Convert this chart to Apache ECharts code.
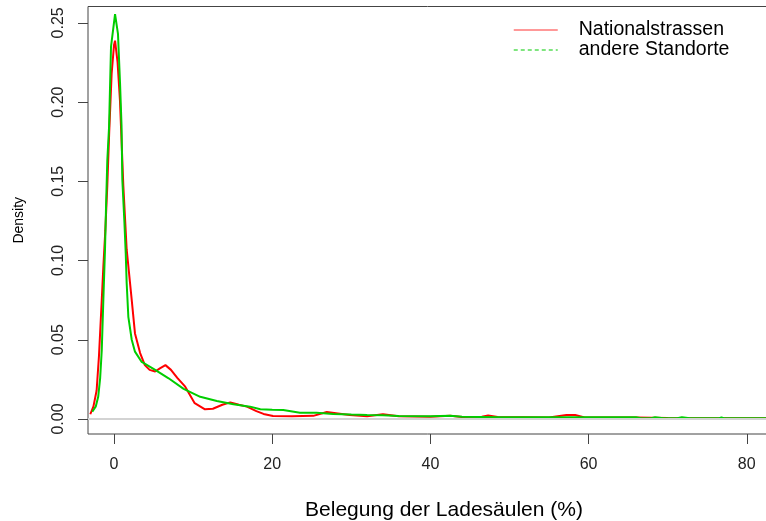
<!DOCTYPE html>
<html>
<head>
<meta charset="utf-8">
<script src="https://cdn.jsdelivr.net/npm/echarts@6/dist/echarts.min.js"></script>
<style>
html,body{margin:0;padding:0;background:#fff;}
#chart{width:766px;height:521px;}
</style>
</head>
<body>
<div id="chart"></div>
<script>
// Data
const seriesNames = ["Nationalstrassen", "andere Standorte"];
const xTicks = [0, 20, 40, 60, 80];
const yTicks = [0, 0.05, 0.10, 0.15, 0.20, 0.25];

const nationalX = [-3.0,-2.6,-2.2,-1.9,-1.55,-1.35,-1.1,-0.85,-0.6,-0.3,0.0,0.13,0.45,0.75,1.18,1.6,2.24,2.65,3.3,3.9,4.5,5.2,5.8,6.5,7.2,8.0,9.0,10.2,11.5,12.5,13.7,14.7,15.8,16.8,18.0,18.9,20.1,22.5,25.2,26.9,28.3,29.8,32.0,34.0,36.0,40.0,42.5,44.0,46.5,47.3,48.5,55.0,57.2,58.3,59.5,66.0,70.0,80.0,86.7];
const nationalY = [0.0030,0.008,0.018,0.040,0.075,0.096,0.119,0.147,0.182,0.218,0.236,0.2387,0.225,0.201,0.147,0.107,0.075,0.054,0.0416,0.034,0.031,0.030,0.032,0.034,0.031,0.026,0.0204,0.010,0.0061,0.0065,0.009,0.0105,0.009,0.0078,0.005,0.0032,0.0019,0.0018,0.0020,0.0044,0.0035,0.0025,0.0018,0.0030,0.0018,0.0015,0.0020,0.0012,0.0015,0.0022,0.0012,0.0010,0.0025,0.0025,0.0010,0.0009,0.0006,0.0004,0.0004];

const andereX = [-2.75,-2.3,-2.0,-1.75,-1.55,-1.35,-1.14,-1.0,-0.85,-0.63,-0.38,0.13,0.5,0.76,0.95,1.05,1.3,1.48,1.6,1.81,2.24,2.65,3.5,5.2,6.9,8.8,10.9,13.0,15.1,17.2,18.5,20.0,21.4,23.5,25.6,27.7,30.0,32.0,34.0,36.0,40.0,42.5,44.0,48.8,66.0,66.8,67.8,68.4,69.5,71.2,71.8,72.8,76.5,76.8,77.2,86.7];
const andereY = [0.0046,0.008,0.014,0.026,0.0435,0.075,0.107,0.136,0.163,0.184,0.235,0.2555,0.243,0.212,0.185,0.151,0.1256,0.1045,0.0857,0.0645,0.050,0.0425,0.036,0.031,0.0257,0.0190,0.014,0.0114,0.0093,0.0078,0.0061,0.0058,0.0057,0.004,0.004,0.0032,0.0028,0.0025,0.0024,0.0019,0.0018,0.0021,0.0014,0.0011,0.0011,0.0004,0.0004,0.0011,0.0005,0.0005,0.0011,0.0005,0.0005,0.0010,0.0004,0.0004];

const pairs = (xs, ys) => xs.map((x, i) => [x, ys[i]]);

const chart = echarts.init(document.getElementById('chart'), null, {renderer: 'canvas'});
const font = 'Liberation Sans, Arial, sans-serif';
chart.setOption({
  animation: false,
  backgroundColor: '#ffffff',
  grid: {left: 88, top: 6.5, width: 712, height: 427.5, outerBoundsMode: 'none', containLabel: false,
    show: true, borderColor: '#444', borderWidth: 1, backgroundColor: 'transparent'},
  xAxis: {
    type: 'value', min: -3.29, max: 86.73,
    name: 'Belegung der Ladesäulen (%)', nameLocation: 'middle', nameGap: 66,
    nameTextStyle: {fontFamily: font, fontSize: 21, color: '#000'},
    axisLine: {show: false, onZero: false},
    splitLine: {show: false},
    axisTick: {show: true, inside: false, length: 10, customValues: xTicks, lineStyle: {color: '#444', width: 1}},
    axisLabel: {customValues: xTicks, margin: 23, fontFamily: font, fontSize: 16, color: '#222'}
  },
  yAxis: {
    type: 'value', min: -0.00946, max: 0.2603,
    name: 'Density', nameLocation: 'middle', nameGap: 62, nameRotate: 90,
    nameTextStyle: {fontFamily: font, fontSize: 14, color: '#000'},
    axisLine: {show: false, onZero: false},
    splitLine: {show: false},
    axisTick: {show: true, inside: false, length: 10, customValues: yTicks, lineStyle: {color: '#444', width: 1}},
    axisLabel: {customValues: yTicks, rotate: 90, margin: 21, fontFamily: font, fontSize: 16, color: '#222',
      formatter: v => v.toFixed(2)}
  },
  legend: {
    orient: 'vertical', left: 508, top: 15, itemWidth: 44, itemHeight: 14, itemGap: 0,
    textStyle: {fontFamily: font, fontSize: 19.5, lineHeight: 20, color: '#000', padding: [0, 0, 0, 16]},
    data: [
      {name: seriesNames[0], itemStyle: {color: 'transparent', borderColor: 'transparent', borderWidth: 0},
        lineStyle: {width: 1, type: 'solid', color: '#ff3333'}},
      {name: seriesNames[1], itemStyle: {color: 'transparent', borderColor: 'transparent', borderWidth: 0},
        lineStyle: {width: 1.5, type: [4, 3], color: '#55dd55'}}
    ]
  },
  series: [
    {
      name: seriesNames[0], type: 'line', symbol: 'none', smooth: false,
      data: pairs(nationalX, nationalY),
      lineStyle: {color: '#ff0000', width: 2}, itemStyle: {color: '#ff0000'},
      markLine: {silent: true, symbol: 'none', label: {show: false},
        lineStyle: {color: '#d3d3d3', width: 2, type: 'solid'}, data: [{yAxis: 0}]},
      z: 2
    },
    {
      name: seriesNames[1], type: 'line', symbol: 'none', smooth: false,
      data: pairs(andereX, andereY),
      lineStyle: {color: '#00cd00', width: 2}, itemStyle: {color: '#00cd00'},
      z: 3
    }
  ]
});
</script>
</body>
</html>
